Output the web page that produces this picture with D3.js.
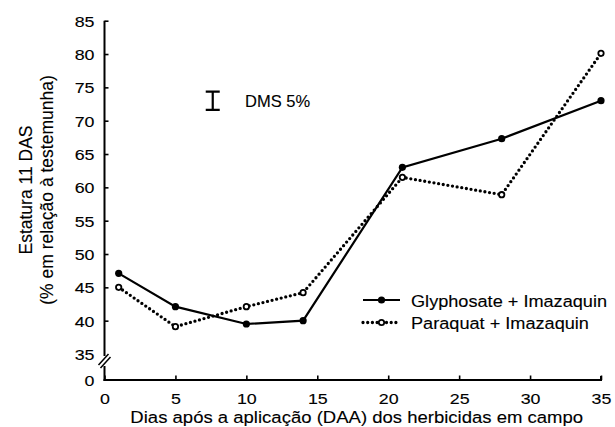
<!DOCTYPE html>
<html>
<head>
<meta charset="utf-8">
<script src="https://cdn.jsdelivr.net/npm/d3@7"></script>
<style>
  body { margin: 0; background: #fff; }
  svg text { font-family: "Liberation Sans", Arial, sans-serif; fill: #000; stroke: #000; stroke-width: 0.12px; }
</style>
</head>
<body>
<svg width="615" height="427"></svg>
<script>
// data
var days = [1, 5, 10, 14, 21, 28, 35];
var glyphosate = [47.1, 42.1, 39.5, 40.0, 63.0, 67.3, 73.0];
var paraquat = [45.0, 39.1, 42.1, 44.2, 61.5, 58.9, 80.1];
var seriesNames = ['Glyphosate + Imazaquin', 'Paraquat + Imazaquin'];
var xTicks = [0, 5, 10, 15, 20, 25, 30, 35];
var yTicks = [0, 35, 40, 45, 50, 55, 60, 65, 70, 75, 80, 85];
var dms = 2.75; // DMS 5% bar length

var svg = d3.select('svg');
var stretch = 1.15; // the source type is a bit wide

var x = d3.scaleLinear().domain([0, 35]).range([104.5, 601]);
var y = d3.scaleLinear().domain([0, 35, 85]).range([380, 354, 20.7]);

var g = svg.append('g');

// x axis, ticks point inward
var xAxis = g.append('g')
    .attr('transform', `translate(0,${y(0)})`)
    .call(d3.axisBottom(x).tickValues(xTicks).tickSize(-4.5).tickSizeOuter(0).tickPadding(13));
xAxis.select('.domain').attr('stroke-width', 2)
    .attr('d', `M${x(0) - 1},0H${x(35)}V-4`);
xAxis.selectAll('.tick line').attr('stroke-width', 1.6);
xAxis.selectAll('.tick text')
    .style('font-size', '15.5px')
    .attr('transform', `scale(${stretch},1)`);

// y axis, ticks inward too
var yAxis = g.append('g')
    .attr('transform', `translate(${x(0)},0)`)
    .call(d3.axisLeft(y).tickValues(yTicks).tickSize(-4).tickPadding(10));
yAxis.select('.domain').remove();
yAxis.selectAll('.tick line').attr('stroke-width', 1.6);
yAxis.selectAll('.tick').filter(d => d === 0 || d === 35).select('line').remove();
yAxis.selectAll('.tick text')
    .style('font-size', '15.5px')
    .attr('dy', '0.36em')
    .attr('x', -10 / stretch)
    .attr('transform', `scale(${stretch},1)`);

// y axis line with break
yAxis.append('path')
    .attr('fill', 'none').attr('stroke', '#000').attr('stroke-width', 2)
    .attr('d', `M0,${y(85)}V${y(35) + 2}M0,${y(35) + 12}V${y(0) + 1}`);
yAxis.append('path')
    .attr('fill', 'none').attr('stroke', '#000').attr('stroke-width', 1.5)
    .attr('d', `M-6,${y(35) + 11}L4,${y(35)}M-4,${y(35) + 14}L6,${y(35) + 3}`);

// axis titles
svg.append('text')
    .attr('transform', `translate(${(x(0) + x(35)) / 2 + 4},423) scale(1.09,1)`)
    .attr('text-anchor', 'middle')
    .style('font-size', '17px')
    .text('Dias após a aplicação (DAA) dos herbicidas em campo');

var yt = svg.append('text')
    .attr('transform', 'translate(32,190) rotate(-90)')
    .attr('text-anchor', 'middle')
    .style('font-size', '17.5px');
yt.append('tspan').attr('x', 0).attr('y', 0).text('Estatura 11 DAS');
yt.append('tspan').attr('x', 0).attr('y', 21).text('(% em relação à testemunha)');

// lines
var line = d3.line()
    .x((d, i) => x(days[i]))
    .y(d => y(d));

g.append('path')
    .datum(paraquat)
    .attr('fill', 'none')
    .attr('stroke', '#000')
    .attr('stroke-width', 3.3)
    .attr('stroke-linecap', 'round')
    .attr('stroke-dasharray', '0 4.7')
    .attr('d', line);

g.append('path')
    .datum(glyphosate)
    .attr('fill', 'none')
    .attr('stroke', '#000')
    .attr('stroke-width', 2.2)
    .attr('d', line);

g.selectAll('.m-gly')
  .data(glyphosate)
  .enter().append('circle')
    .attr('class', 'm-gly')
    .attr('cx', (d, i) => x(days[i]))
    .attr('cy', d => y(d))
    .attr('r', 3.6)
    .attr('fill', '#000');

g.selectAll('.m-par')
  .data(paraquat)
  .enter().append('circle')
    .attr('class', 'm-par')
    .attr('cx', (d, i) => x(days[i]))
    .attr('cy', d => y(d))
    .attr('r', 2.7)
    .attr('fill', '#fff')
    .attr('stroke', '#000')
    .attr('stroke-width', 1.8);

// DMS 5% bar
var bx = x(7.63), by = 73.0;
g.append('path')
    .attr('fill', 'none').attr('stroke', '#000').attr('stroke-width', 2.2)
    .attr('d', `M${bx - 7},${y(by + dms / 2)}H${bx + 7}M${bx},${y(by + dms / 2)}V${y(by - dms / 2)}M${bx - 7},${y(by - dms / 2)}H${bx + 7}`);
svg.append('text')
    .attr('x', 245).attr('y', 106.5)
    .style('font-size', '16.5px')
    .text('DMS 5%');

// legend
var legend = svg.append('g').attr('transform', 'translate(363,300)');
var leg = legend.selectAll('g')
  .data(seriesNames)
  .enter().append('g')
    .attr('transform', (d, i) => `translate(0,${i * 22.5})`);

leg.append('line')
    .attr('x1', 0).attr('x2', 37).attr('y1', 0).attr('y2', 0)
    .attr('stroke', '#000')
    .attr('stroke-width', (d, i) => i ? 3.3 : 2.2)
    .attr('stroke-linecap', (d, i) => i ? 'round' : 'butt')
    .attr('stroke-dasharray', (d, i) => i ? '0 4.7' : null);
leg.append('circle')
    .attr('cx', 18.5).attr('cy', 0)
    .attr('r', (d, i) => i ? 2.7 : 3.6)
    .attr('fill', (d, i) => i ? '#fff' : '#000')
    .attr('stroke', '#000')
    .attr('stroke-width', (d, i) => i ? 1.8 : 0);
leg.append('text')
    .attr('transform', 'translate(48,6.5) scale(1.1,1)')
    .style('font-size', '16.5px')
    .text(d => d);
</script>
</body>
</html>
